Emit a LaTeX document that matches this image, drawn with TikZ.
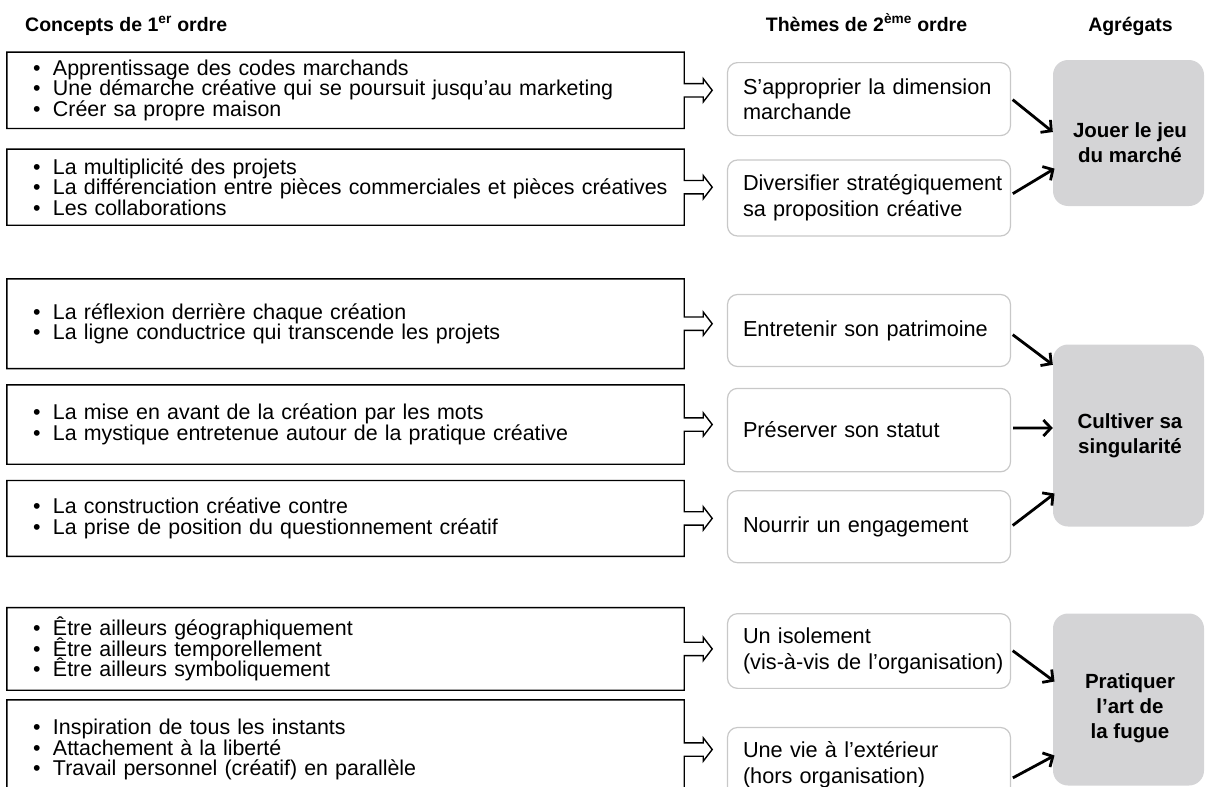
\documentclass[tikz,border=0pt]{standalone}
\usepackage{fontspec}
\setmainfont{Liberation Sans}
\usetikzlibrary{arrows.meta,calc}
\definecolor{aggfill}{RGB}{212,212,214}
\definecolor{themeborder}{RGB}{200,200,200}
\newcommand\li[1]{\mbox{\makebox[20pt][l]{\textbullet}#1}}
\newcommand\tl[1]{\mbox{#1}}
\newcommand\tightlines{\lineskiplimit=-20pt\relax\lineskip=0pt\relax}
\newcommand\drawconcept[1]{%
  \draw[conceptline] (#1.north west) -- (#1.north east) -- ([yshift=6.7pt]#1.east)
    -- ++(19pt,0) -- ++(0,5pt) -- ++(9pt,-11.7pt) -- ++(-9pt,-11.7pt) -- ++(0,5pt)
    -- ([yshift=-6.7pt]#1.east) -- (#1.south east) -- (#1.south west) -- cycle;}
\tikzset{
  cbox/.style={rectangle, minimum width=677pt, minimum height=#1, text width=625pt,
    inner xsep=26pt, inner ysep=0pt, align=left,
    font=\fontsize{21.4}{20.5}\selectfont\tightlines},
  conceptline/.style={draw=black, line width=1.4pt, line join=miter},
  tbox/.style={rectangle, rounded corners=10pt, draw=themeborder, line width=1.2pt,
    minimum width=283pt, minimum height=#1, text width=252pt, inner xsep=15.5pt,
    inner ysep=0pt, align=left,
    font=\fontsize{21.7}{25.5}\selectfont\tightlines},
  abox/.style={rectangle, rounded corners=15pt, fill=aggfill, minimum width=151pt,
    minimum height=#1, inner sep=0pt},
  atext/.style={align=center, font=\bfseries\fontsize{20.5}{25}\selectfont},
  header/.style={font=\bfseries\fontsize{19.5}{20}\selectfont, inner sep=0pt},
  aggarrow/.style={line width=2.8pt, shorten <=2pt, -{Straight Barb[length=7.5pt,width=16pt]}}
}
\begin{document}
\begin{tikzpicture}[x=1pt,y=-1pt]
\useasboundingbox (0,0) rectangle (1205,787);
\clip (0,0) rectangle (1205,787);
% headers
\node[header, anchor=base west] (h1) at (25,31.5) {Concepts de 1\textsuperscript{er} ordre};
\node[header, anchor=base] (h2) at (866.5,31.5) {Thèmes de 2\textsuperscript{ème} ordre};
\node[header, anchor=base] (h3) at (1130.5,31.5) {Agrégats};
% concept boxes
\node[cbox=76pt] (c1) at (345.5,90.3) {\li{Apprentissage des codes marchands}\\\li{Une démarche créative qui se poursuit jusqu’au marketing}\\\li{Créer sa propre maison}};
\node[cbox=75.7pt] (c2) at (345.5,187.2) {\li{La multiplicité des projets}\\\li{La différenciation entre pièces commerciales et pièces créatives}\\\li{Les collaborations}};
\node[cbox=89.3pt] (c3) at (345.5,323.7) {\li{La réflexion derrière chaque création}\\\li{La ligne conductrice qui transcende les projets}};
\node[cbox=79pt] (c4) at (345.5,424.5) {\li{La mise en avant de la création par les mots}\\\li{La mystique entretenue autour de la pratique créative}};
\node[cbox=75.4pt] (c5) at (345.5,518.4) {\li{La construction créative contre}\\\li{La prise de position du questionnement créatif}};
\node[cbox=82.3pt] (c6) at (345.5,648.9) {\li{Être ailleurs géographiquement}\\\li{Être ailleurs temporellement}\\\li{Être ailleurs symboliquement}};
\node[cbox=99pt] (c7) at (345.5,749.5) {\li{Inspiration de tous les instants}\\\li{Attachement à la liberté}\\\li{Travail personnel (créatif) en parallèle}};
\foreach \n in {c1,c2,c3,c4,c5,c6,c7} {\drawconcept{\n}}
% theme boxes
\node[tbox=73pt] (t1) at (869,99.1) {\tl{S’approprier la dimension}\\\tl{marchande}};
\node[tbox=76pt] (t2) at (869,198) {\tl{Diversifier stratégiquement}\\\tl{sa proposition créative}};
\node[tbox=72pt] (t3) at (869,330.5) {\tl{Entretenir son patrimoine}};
\node[tbox=83.4pt] (t4) at (869,430.1) {\tl{Préserver son statut}};
\node[tbox=72pt] (t5) at (869,526.7) {\tl{Nourrir un engagement}};
\node[tbox=74.7pt] (t6) at (869,651) {\tl{Un isolement}\\\tl{(vis-à-vis de l’organisation)}};
\node[tbox=75pt] (t7) at (869,765) {\tl{Une vie à l’extérieur}\\\tl{(hors organisation)}};
% aggregates
\node[abox=146pt] (a1) at (1128.5,133) {};
\node[atext] (a1t) at (1130,143) {Jouer le jeu\\du marché};
\node[abox=182pt] (a2) at (1128.5,435.5) {};
\node[atext] (a2t) at (1130,436) {Cultiver sa\\singularité};
\node[abox=172pt] (a3) at (1128.5,699.5) {};
\node[atext] (a3t) at (1130,708) {Pratiquer\\l’art de\\la fugue};
% arrows
\draw[aggarrow] ([yshift=0.7pt]t1.east) -- ([yshift=1pt]a1.west);
\draw[aggarrow] ([yshift=3.3pt]t2.east) -- ([xshift=1.7pt,yshift=-35.6pt]a1.west);
\draw[aggarrow] ([yshift=-3pt]t3.east) -- ([yshift=70.7pt]a2.west);
\draw[aggarrow] ([yshift=2pt]t4.east) -- ([yshift=7.5pt]a2.west);
\draw[aggarrow] (t5.east) -- ([xshift=1.7pt,yshift=-58pt]a2.west);
\draw[aggarrow] ([yshift=1.5pt]t6.east) -- ([xshift=1.7pt,yshift=18pt]a3.west);
\draw[aggarrow] ([yshift=-13.8pt]t7.east) -- ([xshift=1.7pt,yshift=-56pt]a3.west);
\end{tikzpicture}
\end{document}
